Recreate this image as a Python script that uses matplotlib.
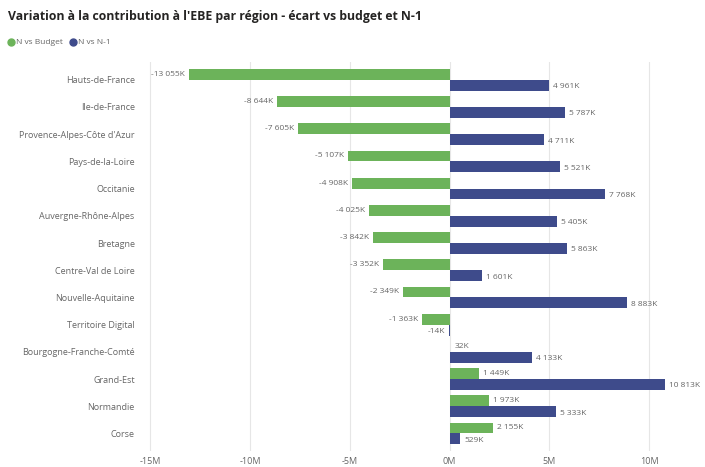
import numpy as np
from matplotlib import pyplot as plt

# Donnees (en milliers)
regions = ['Hauts-de-France', 'Ile-de-France', "Provence-Alpes-Côte d'Azur",
           'Pays-de-la-Loire', 'Occitanie', 'Auvergne-Rhône-Alpes', 'Bretagne',
           'Centre-Val de Loire', 'Nouvelle-Aquitaine', 'Territoire Digital',
           'Bourgogne-Franche-Comté', 'Grand-Est', 'Normandie', 'Corse']
vs_budget = [-13055, -8644, -7605, -5107, -4908, -4025, -3842, -3352, -2349,
             -1363, 32, 1449, 1973, 2155]
vs_n1 = [4961, 5787, 4711, 5521, 7768, 5405, 5863, 1601, 8883, -14, 4133,
         10813, 5333, 529]
xticks = [-15000, -10000, -5000, 0, 5000, 10000]
xtick_labels = ['-15M', '-10M', '-5M', '0M', '5M', '10M']

vert = '#6cb35a'
bleu = '#3e4b8b'
gris = '#666666'

plt.rcParams['font.family'] = ['Open Sans', 'DejaVu Sans']

fig = plt.figure(figsize=(7.05, 4.67), dpi=100)
ax = fig.add_axes([0.199, 0.034, 0.794, 0.833])

y = np.arange(len(regions))
h = 0.4
ax.barh(y - h / 2, vs_budget, height=h, color=vert)
ax.barh(y + h / 2, vs_n1, height=h, color=bleu)


def fmt(v):
    s = '{:,}'.format(abs(v)).replace(',', ' ')
    return ('-' if v < 0 else '') + s + 'K'


# etiquettes de valeurs
for yy, v in zip(y - h / 2, vs_budget):
    ax.text(v + (200 if v >= 0 else -200), yy, fmt(v), va='center',
            ha='left' if v >= 0 else 'right', fontsize=6, color=gris)
for yy, v in zip(y + h / 2, vs_n1):
    ax.text(v + (200 if v >= 0 else -200), yy + 0.05, fmt(v), va='center',
            ha='left' if v >= 0 else 'right', fontsize=6, color=gris)

ax.set_yticks(y)
ax.set_yticklabels(regions, fontsize=6.5, color=gris)
ax.set_ylim(len(regions) - 0.35, -0.65)
ax.set_xlim(-15500, 12550)
ax.set_xticks(xticks)
ax.set_xticklabels(xtick_labels, fontsize=6.5, color=gris)
ax.tick_params(length=0, pad=4)
ax.grid(axis='x', color='#e6e6e6', linewidth=0.8)
ax.set_axisbelow(True)
for s in ax.spines.values():
    s.set_visible(False)

fig.text(0.011, 0.965, "Variation à la contribution à l'EBE par région - écart vs budget et N-1",
         fontsize=8.8, fontweight='bold', color='#252423', va='center')

# legende
fig.lines.append(plt.Line2D([0.016], [0.909], marker='o', markersize=5,
                            color=vert, transform=fig.transFigure))
fig.text(0.022, 0.909, 'N vs Budget', fontsize=6, color=gris, va='center')
fig.lines.append(plt.Line2D([0.104], [0.909], marker='o', markersize=5,
                            color=bleu, transform=fig.transFigure))
fig.text(0.110, 0.909, 'N vs N-1', fontsize=6, color=gris, va='center')

fig.savefig('out.png', dpi=100)
